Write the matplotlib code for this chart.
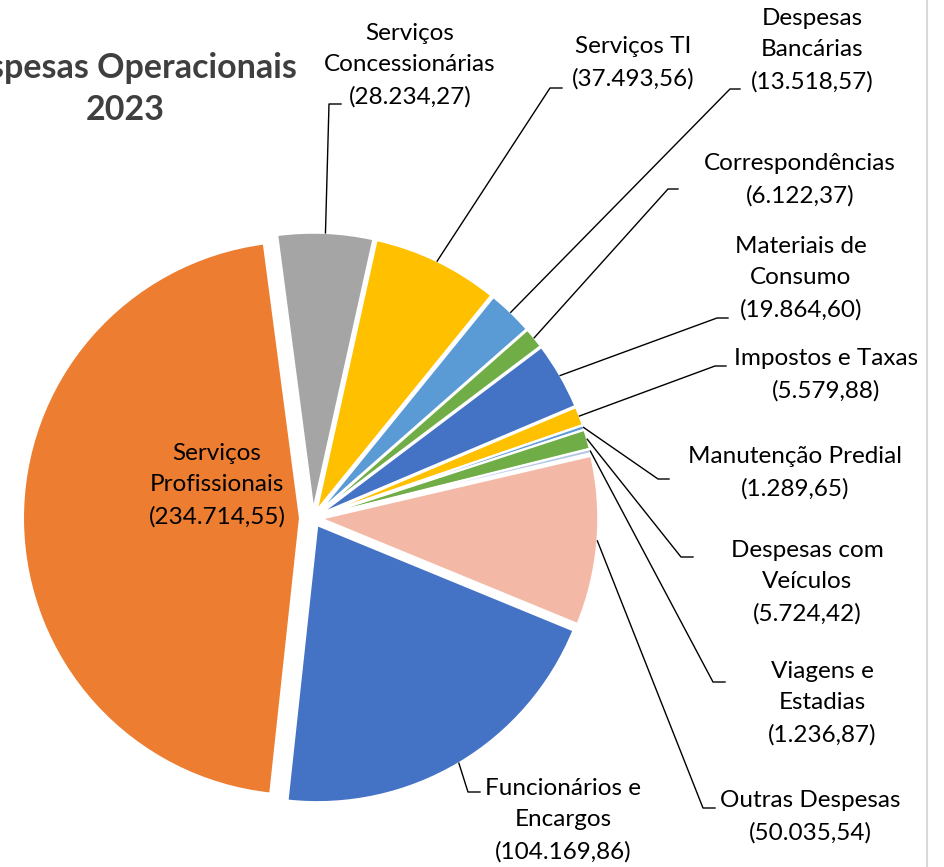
import numpy as np
import matplotlib
matplotlib.use('Agg')
import matplotlib.pyplot as plt

plt.rcParams['font.family'] = ['Lato', 'DejaVu Sans']

# data, clockwise from the top
categorias = ['Serviços\nConcessionárias', 'Serviços TI', 'Despesas\nBancárias',
              'Correspondências', 'Materiais de\nConsumo', 'Impostos e Taxas',
              'Manutenção Predial', 'Despesas com\nVeículos', 'Viagens e\nEstadias',
              'Outras Despesas', 'Funcionários e\nEncargos', 'Serviços\nProfissionais']
valores = [28234.27, 37493.56, 13518.57, 6122.37, 19864.60, 5579.88,
           1289.65, 5724.42, 1236.87, 50035.54, 104169.86, 234714.55]
rotulos_valor = ['28.234,27', '37.493,56', '13.518,57', '6.122,37', '19.864,60', '5.579,88',
                 '1.289,65', '5.724,42', '1.236,87', '50.035,54', '104.169,86', '234.714,55']
cores = ['#A5A5A5', '#FFC000', '#5B9BD5', '#70AD47', '#4472C4', '#FFC000',
         '#5B9BD5', '#70AD47', '#B4C7E7', '#F4B9A6', '#4472C4', '#ED7D31']

W, H = 944, 867
fig = plt.figure(figsize=(W / 100, H / 100), dpi=100)
ax = fig.add_axes([0, 0, 1, 1])

# pixel layout (y measured from the top)
cx, cy, raio = 313, 518, 277
# pie's explode is in data units, so scale by the radius
explode = [f * raio for f in [0.03] * 11 + [0.047]]

wedges, _ = ax.pie(valores, colors=cores, startangle=97.5, counterclock=False,
                   center=(cx, H - cy), radius=raio, explode=explode,
                   wedgeprops=dict(edgecolor='white', linewidth=1.5))
ax.set_xlim(0, W)
ax.set_ylim(0, H)
ax.set_aspect('equal')
ax.axis('off')

# label centre (x, y) and elbow of the leader line (x, y), in pixels from top-left
pos_rotulo = [(410, 65), (633, 63), (812, 50), (800, 180), (801, 278), (826, 375),
              (795, 473), (807, 582), (822, 703), (810, 817), (563, 820), (217, 485)]
cotovelo = [(329, 104), (550, 88), (730, 89), (668, 189), (717, 318), (715, 366),
            (658, 479), (681, 557), (713, 682), (703, 808), (468, 792), None]
fim_cotovelo = [341, 562, 740, 678, 728, 726, 669, 693, 725, 715, 480, None]

fs = 17.5
for w, cat, val, (tx, ty), cot, fx in zip(wedges, categorias, rotulos_valor,
                                         pos_rotulo, cotovelo, fim_cotovelo):
    ax.text(tx, H - ty, f'{cat}\n({val})', ha='center', va='center',
            fontsize=fs, color='black', linespacing=1.6)
    if cot is None:
        continue
    ang = np.deg2rad((w.theta1 + w.theta2) / 2)
    x0 = w.center[0] + w.r * np.cos(ang)
    y0 = w.center[1] + w.r * np.sin(ang)
    ax.plot([x0, cot[0], fx], [y0, H - cot[1], H - cot[1]], color='black', lw=1)

# title, partly cut off at the left edge like the original
ax.text(121, H - 68, 'Despesas Operacionais', ha='center', va='center',
        fontsize=24.5, fontweight='bold', color='#3F3F3F')
ax.text(125, H - 110, '2023', ha='center', va='center',
        fontsize=24.5, fontweight='bold', color='#3F3F3F')

# chart border on the right
ax.plot([927, 927], [0, H], color='#D9D9D9', lw=1.5)

fig.savefig('out.png', dpi=100)
